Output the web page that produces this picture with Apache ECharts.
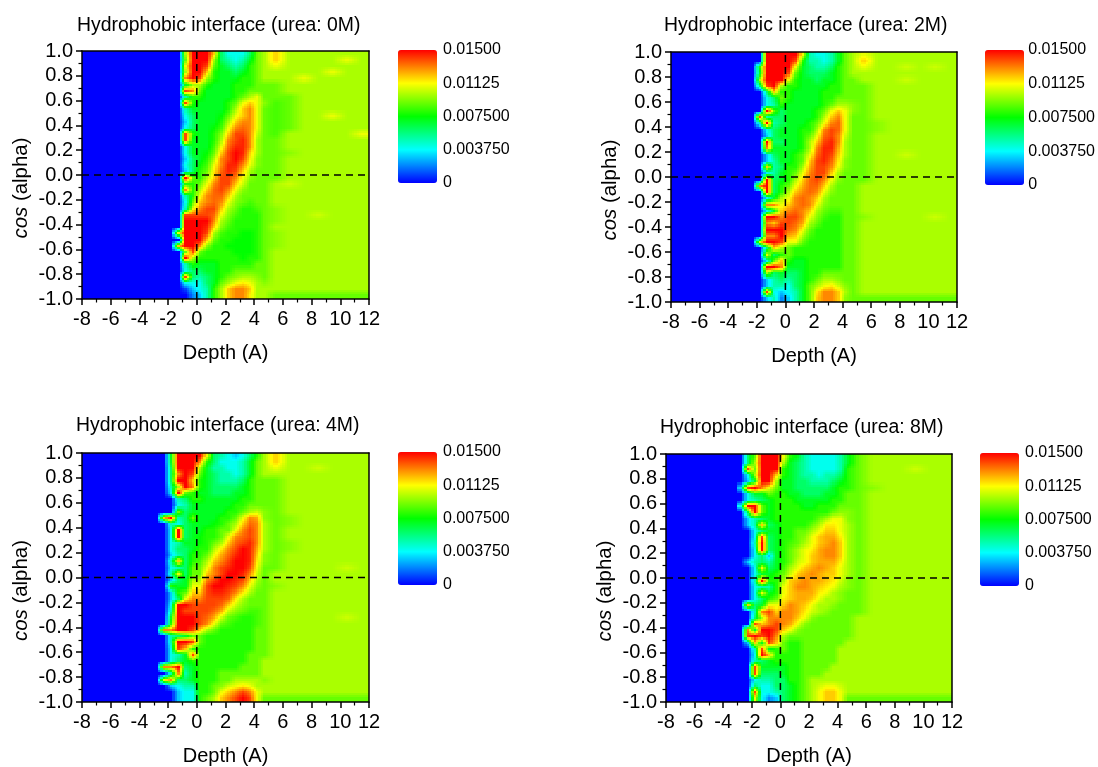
<!DOCTYPE html>
<html><head><meta charset="utf-8">
<script src="https://cdn.jsdelivr.net/npm/echarts@6/dist/echarts.min.js"></script>
<style>html,body{margin:0;padding:0;background:#fff}#c{width:1098px;height:767px}</style>
</head><body><div id="c"></div>
<script>
const titles = ['Hydrophobic interface (urea: 0M)','Hydrophobic interface (urea: 2M)','Hydrophobic interface (urea: 4M)','Hydrophobic interface (urea: 8M)'];
const colorbarTicks = ['0','0.003750','0.007500','0.01125','0.01500'];
const depthEdges = [-8,-3,-2.5,-2,-1.5,-1,-0.5,0,0.5,1,1.5,2,2.5,3,3.5,4,4.5,5,6,7,8,9,10,11,12];
// values in units of 0.001; rows run from cos = 1.0 down to -1.0 in steps of 0.05
const urea0M = [
[0,0,0,0,0,10,15,15,15,12,6,4,4,4,6,9,10,12,10,10,10,10,10,10],
[0,0,0,0,0,9,15,15,15,10,6,5,4,5,7,9,10,12,10,10,10,10,11,10],
[0,0,0,0,0,11,15,15,14,9,7,6,5,6,8,9,10,11,10,10,10,10,10,10],
[0,0,0,0,0,10,15,15,12,8,7,7,6,7,8,9,10,10,10,10,10,11,10,10],
[0,0,0,0,0,13,15,14,10,8,7,7,7,8,8,9,10,10,10,11,10,10,10,10],
[0,0,0,0,0,7,10,10,8,7,7,7,8,8,8,9,9,9,10,10,10,10,10,10],
[0,0,0,0,0,14,13,9,7,7,7,7,8,8,9,9,9,9,10,10,10,10,10,10],
[0,0,0,0,0,5,8,8,7,7,7,7,8,9,10,11,9,9,9,10,10,10,10,10],
[0,0,0,0,0,14,8,7,7,7,7,8,9,11,12,11,9.5,8.5,9,10,10,10,10,10],
[0,0,0,0,0,5,7,7,7,7,7,8,10,12,13,11,9,8.5,9,10,10,10,10,10],
[0,0,0,0,0,4,6,7,7,7,7.5,9,11,12,13,11,9,8.5,9,10,10,11,10,10],
[0,0,0,0,0,3,6,7,7,7,8,10,12,13,13,11,9,8.5,9,10,10,10,10,10],
[0,0,0,0,0,4,6,7,7,7.5,8.5,11,13,13.5,13,11,9,8.5,9,10,10,10,10,10],
[0,0,0,0,0,14,8,7,7,8,9.5,12,14,14,13,10.5,9,8.5,10,10,10,10,10,11],
[0,0,0,0,0,14,7,7,7,8,10,13,14,14.5,13,10,9,9,10,10,10,10,10,10],
[0,0,0,0,0,4,7,7,7,8.5,11,13.5,14.5,14.5,13,10,9,9,10,10,10,10,10,10],
[0,0,0,0,0,4,7,7,7.5,9,12,14,15,14.5,12,10,9,9,9.5,10,10,10,10,10],
[0,0,0,0,0,3,6,7,8,10,13,14,15,14,11.5,9.5,9,9,10,10,10,10,10,10],
[0,0,0,0,0,4,6,7.5,8.5,11,13,14.5,14.5,13,11,9.5,9,9,10,10,10,10,10,10],
[0,0,0,0,0,3,6,8,9,11.5,13.5,14.5,14,12,10,9,9,9,10,10,10,10,10,10],
[0,0,0,0,0,15,9,8,10,12,14,14,13,11,9.5,9,9,9,10,10,10,10,10,10],
[0,0,0,0,0,8,8,9,11,13,14,14,12,10.5,9,9,9,10,10.5,10,10,10,10,10],
[0,0,0,0,0,13,8,10,12,13.5,14,13,11,9.5,9,9,9,10,10,10,10,10,10,10],
[0,0,0,0,0,5,8,11,13,13.5,13.5,12,10,9,9,9,9,10,10,10,10,10,10,10],
[0,0,0,0,0,4,9,12,13,13.5,13,11,9.5,9,8.5,9,9,10,10,10,10,10,10,10],
[0,0,0,0,0,5,11,13,14,14,12,10,9,8,8,8.5,9,9.5,10,10,10,10,10,10],
[0,0,0,0,0,14,14,14,14,13.5,11,9.5,8.5,8,8,8,9,9.5,10,10,10.5,10,10,10],
[0,0,0,0,0,15,15,15,15,13,10,9,8,8,8,8,9,9.5,10,10,10,10,10,10],
[0,0,0,0,0,15,15,15,14.5,12,9.5,8.5,8,8,8,8,9,10,10,10,10,10,10,10],
[0,0,0,0,11,15,15,15,14,10,8.5,8,8,7.5,7.5,8,9,9.5,10,10,10,10,10,10],
[0,0,0,0,0,15,15,15,12,9,8,8,7.5,7.5,7.5,8,9,9.5,10,10,10,10,10,10],
[0,0,0,0,12,15,15,13,9.5,8,8,7.5,7.5,7.5,7.5,8,9,9.5,10,10,10,10,10,10],
[0,0,0,0,0,9,14,9,8,8,8,8,7.5,7.5,7.5,8,9,10,10,10,10,10,10,10],
[0,0,0,0,0,15,10,8,8,8,8,8,8,7.5,8,8,9,10,10,10,10,10,10,10],
[0,0,0,0,0,5,8,7,7,7,8,8,8,8,8,9,9,10,10,10,10,10,10,10],
[0,0,0,0,0,4,6,6,7,7,8,8,9,9,9,9,9,10,10,10,10,10,10,10],
[0,0,0,0,0,14,6,5,6,7,8,9,9.5,10,10,9.5,9,10,10,10,10,10,10,10],
[0,0,0,0,0,4,4,4,6,7,9,10,11,11.5,11,10,9.5,10,10,10,10,10,10,10],
[0,0,0,0,0,1,3,4,5,8,10,12,13,13,12,10,10,10,10,10,10,10,10,10],
[0,0,0,0,0,0,2,3,5,8,10,12,13,13,11.5,10,10,9,9,9,9,9,9,9]];
const urea2M = [
[0,0,0,0,15,15,15,15,15,11,5,4,4,5,7,9,10,11,10,10,10,10,10,10],
[0,0,0,0,15,15,15,15,14,8,5,5,4,5,7,9,10,12,10,10,10,10,10,10],
[0,0,0,8,15,15,15,15,11,7,6,5,5,6,8,9,10,11,10,10,10.5,10,10.5,10],
[0,0,0,7,15,15,15,14,9,7,6,6,6,7,8,9,10,10,10,10,10,10,10,10],
[0,0,0,10,15,15,15,11,8,7,7,6,7,7,8,9,9,10,10,10,10.5,10,10,10],
[0,0,0,6,14,15,10,8,8,7,7,7,7,8,8,9,9,9,10,10,10,10,10,10],
[0,0,0,0,6,12,8,8,7,7,7,7,8,8,8,9,9,9,10,10,10,10,10,10],
[0,0,0,0,4,6,9,8,7,7,7,7,8,8,9,9,9,9,10,10,10,10,10,10],
[0,0,0,0,4,5,8,7,7,7,7,7,8,9,10,10,9.5,9,10,10,10,10,10,10],
[0,0,0,0,15,9,6,7,7,7,7,8,9,11,12,11,9.5,9,10,10,10,10,10,10],
[0,0,0,14,5,6,6,7,7,7,7,8,10,12,13,11,9,9,10,10,10,10,10,10],
[0,0,0,5,15,5,6,7,7,7,8,9,11,13,13.5,11,9,9,9.5,10,10,10,10,10],
[0,0,0,0,4,6,7,7,7,8,8,10,13,14,13.5,11,9,9,9.5,10,10,10,10,10],
[0,0,0,0,3,6,7,7,7,8,9,11,13.5,14,13,10.5,9,9,10,10,10,10,10,10],
[0,0,0,0,15,6,6,7,7,8,10,12,14,14.5,13,10,9,9,10,10,10,10,10,10],
[0,0,0,0,13,7,7,7,7,8,10,13,14.5,14.5,12.5,10,9,9,10,10,10,10,10,10],
[0,0,0,0,3,6,7,7,8,9,11,13.5,14.5,14,12,10,9,9,10,10,10.5,10,10,10],
[0,0,0,0,3,5,7,7,8,9,12,14,14.5,13.5,11.5,9.5,9,9,10,10,10,10,10,10],
[0,0,0,0,12,5,6,8,8,10,12.5,14,14,13,11,9.5,9,9,10,10,10,10,10,10],
[0,0,0,0,4,5,7,8,9,11,13,14,14,12,10,9,9,9,10,10,10,10,10,10],
[0,0,0,0,15,6,7,8,10,12,13.5,14,13,11,9.5,9,9,9,10,10,10,10,10,10],
[0,0,0,13,15,6,8,9,11,12.5,13.5,13.5,12,10,9,9,9,10,10,10,10,10,10,10],
[0,0,0,0,15,6,8,10,12,13,13.5,13,11,9.5,9,9,9,10,10,10,10,10,10,10],
[0,0,0,0,4,7,10,11,13,13.5,13,12,10,9,9,9,9,10,10,10,10,10,10,10],
[0,0,0,0,13,13,11,12,13,13.5,13,11,9.5,9,9,9,9,10,10,10,10,10,10,10],
[0,0,0,0,4,7,12,13,13.5,13,12,10,9,8.5,8.5,9,9,10,10,10,10,10,10,10],
[0,0,0,0,15,15,13,14,14,13,11,9.5,8.5,8,8,9,9,9.5,10,10,10,10,10.5,10],
[0,0,0,0,13,12,14,14,13.5,12.5,10,9,8,8,8,9,9,10,10,10,10,10,10,10],
[0,0,0,0,15,15,15,13.5,13,11,9,8,8,8,8,9,9,10,10,10,10,10,10,10],
[0,0,0,0,13,13,15,12.5,12,10,8.5,8,8,8,8,9,9,10,10,10,10,10,10,10],
[0,0,0,11,15,15,14,11,11,9,8,8,8,8,8,9,9,10,10,10,10,10,10,10],
[0,0,0,0,6,12,10,9,8,8,8,8,8,8,8,9,9,10,10,10,10,10,10,10],
[0,0,0,0,11,6,8,9,8,8,8,8,8,8,8,9,9,10,10,10,10,10,10,10],
[0,0,0,0,4,9,12,8,7,7,8,8,8,8,8,9,9,10,10,10,10,10,10,10],
[0,0,0,0,15,15,13,7,7,7,8,8,8,8,8,9,9,10,10,10,10,10,10,10],
[0,0,0,0,10,6,7,6,6,7,8,8,9,9,9,9,9,10,10,10,10,10,10,10],
[0,0,0,0,3,5,6,5,6,7,8,9,10,10,9.5,9,9,10,10,10,10,10,10,10],
[0,0,0,0,3,5,5,4,6,7,9,10,11,11.5,10.5,9.5,9,10,10,10,10,10,10,10],
[0,0,0,0,14,4,3,4,5,7,9,11.5,13,13,12,10,9,10,10,10,10,10,10,10],
[0,0,0,0,3,5,2,3,5,7,9,12,13,13,12,9.5,9,9,9,9,9,9,9,9]];
const urea4M = [
[0,0,0,7,15,15,15,15,11,6,5,4,3,4,6,8,10,12,10,10,10,10,10,10],
[0,0,0,7,15,15,15,13,8,6,4,4,4,5,7,9,10,12,10,10,10,10,10,10],
[0,0,0,6,15,15,15,10,7,5,5,4,4,5,7,9,10,11,10,10,10.5,10,10,10],
[0,0,0,6,13,15,14,9,7,6,5,5,4,5,7,9,10,10,10,10,10,10,10,10],
[0,0,0,6,15,15,12,8,7,6,5,5,5,6,8,9,9,9,10,10,10,10,10,10],
[0,0,0,5,10,15,13,8,7,6,6,6,6,7,8,9,9,9,10,10,10,10,10,10],
[0,0,0,4,15,9,8,7,7,6,6,6,7,7,8,9,9,9,10,10,10,10,10,10],
[0,0,0,0,5,6,8,8,7,7,7,7,7,8,8,9,9,9,10,10,10,10,10,10],
[0,0,0,0,4,5,7,7,7,7,7,7,8,8,9,9,9,9,10,10,10,10,10,10],
[0,0,0,0,9,6,7,7,7,7,7,8,8,9,10,10.5,9.5,9,10,10,10,10,10,10],
[0,0,12,15,5,6,9,7,7,7,8,8,9,11,13,12.5,9.5,9,9.5,10,10,10,10,10],
[0,0,0,5,4,6,7,7,7,7.5,8,9,10,12,13.5,13,10,9,9.5,10,10,10,10,10],
[0,0,0,4,15,6,7,7,8,8,9,9,11,13,14,13,10,9,10,10,10,10,10,10],
[0,0,0,4,15,6,7,7.5,8,8,9,11,13,13.5,14,13,10,9,10,10,10,10,10,10],
[0,0,0,4,5,7,7,7.5,8,9,10,12,13.5,14,14.5,13,10,9,9.5,10,10,10,10,10],
[0,0,0,4,6,6,7,8,8,10,11.5,13,14,15,14.5,12.5,10,9,9.5,10,10,10,10,10],
[0,0,0,3,5,6,8,8,9,11,12.5,13.5,14.5,15,14.5,12,9.5,9,10,10,10,10,10,10],
[0,0,0,5,12,6,8,8.5,10,12,13,14,15,15,14.5,11.5,9.5,9,10,10,10,10,10,10],
[0,0,0,4,5,6,9,9,11,13,14,14.5,15,15,14,11,9,9,10,10,10,10,10.5,10],
[0,0,0,5,11,6,9,9,12,13,14,15,15,14.5,13,10.5,9,10,10,10,10,10,10,10],
[0,0,0,3,6,7,10,10,13,14,15,15,14.5,14,12,10,9,10,10,10,10,10,10,10],
[0,0,0,8,7,7,11,11,14,15,15,14.5,14,13,11,9.5,9,9.5,10,10,10,10,10,10],
[0,0,0,3,8,9,12,12,14,14.5,14.5,14,13,11.5,10,9,9,10,10,10,10,10,10,10],
[0,0,0,3,6,11,13,13,14,14,14,13.5,11.5,10,9,9,9,10,10,10,10,10,10,10],
[0,0,0,4,15,15,14,14,14,14,13.5,12,10.5,9.5,9,9,9,10,10,10,10,10,10,10],
[0,0,0,5,15,14,14,14,14,13.5,12.5,10.5,9.5,9,8.5,8.5,9,10,10,10,10,10,10,10],
[0,0,0,7,15,15,15,14,13.5,12.5,10.5,9,8.5,8,8,8.5,9,10,10,10,10,10,10.5,10],
[0,0,0,8,15,15,15,14,13,11,9,8.5,8,8,8,8.5,9,10,10,10,10,10,10,10],
[0,0,13,13,15,15,14,12,10,9,8,8,8,8,8,9,9,10,10,10,10,10,10,10],
[0,0,0,5,6,7,9,9,8,8,8,8,8,8,8,9,9,10,10,10,10,10,10,10],
[0,0,0,5,15,15,14,9,8,8,8,8,8,8,8,9,9,10,10,10,10,10,10,10],
[0,0,0,4,14,12,8,8,8,8,8,8,8,8,8,9,9,10,10,10,10,10,10,10],
[0,0,0,4,5,7,14,8,8,8,8,8,8,8,9,9,9,10,10,10,10,10,10,10],
[0,0,0,4,6,7,8,8,8,8,8,8,8,8,9,9,10,10,10,10,10,10,10,10],
[0,0,13,13,15,6,7,8,8,8,8,8,8,9,9,9,10,10,10,10,10,10,10,10],
[0,0,0,5,13,5,7,8,8,8,9,9,9,9,9,9,10,10,10,10,10,10,10,10],
[0,0,11,13,6,6,7,8,8,8,9,9,10,10,10,10,9.5,10,10,10,10,10,10,10],
[0,0,0,3,4,5,5,8,8,9,9.5,10.5,11,11.5,11,10,10,10,10,10,10,10,10,10],
[0,0,0,0,3,4,4,8,8,9,11,12,13,14,13,11,10,10,10,10,10,10,10,10],
[0,0,0,0,3,4,4,8,9,10,12,13,14,15,14,11,9,9,9,9,9,9,9,9]];
const urea8M = [
[0,0,6,9,15,15,15,11,8,7,5,4,4,4,4,5,7,9,10,10,10,10,10,10],
[0,0,6,10,15,15,15,10,7,6,5,4,4,4,4,5,7,9,10,10,10,10,10,10],
[0,0,14,9,15,15,15,8,7,6,5,4,4,4,4,5,8,9,10,10,10,10.5,10,10],
[0,0,4,10,15,15,12,8,7,6,5,5,4,5,5,6,8,9,10,10,10,10,10,10],
[0,0,3,7,15,15,10,7,7,6,6,5,5,5,6,7,8,9,10,10,10,10,10,10],
[0,3,14,15,13,11,9,7,7,6,6,6,6,6,7,8,8,9,9.5,10,10,10,10,10],
[0,0,4,7,7,9,8,8,7,7,6,6,6,7,7,8,9,9,10,10,10,10,10,10],
[0,0,4,5,6,7,8,8,8,7,7,7,7,7,8,8,9,9,10,10,10,10,10,10],
[0,4,15,15,9,7,8,8,8,8,7,7,8,8,8,9,9,9,10,10,10,10,10,10],
[0,0,7,15,9,7,8,8,8,8,8,8,8,8,9,9.5,9.5,9,10,10,10,10,10,10],
[0,0,3,5,6,7,8,8,8,8,8,8,9,10,11,11,9.5,9,10,10,10,10,10,10],
[0,0,3,5,12,6,7,8,8,8,8,9,10,11.5,11.5,11,10,9,10,10,10,10,10,10],
[0,0,0,4,6,7,7,8,8,9,9,10,11,12,12,11,10,9,10,10,10,10,10,10],
[0,0,0,4,14,6,7,8,8,9,9.5,11,12,12.5,12.5,11.5,10,9,10,10,10,10,10,10],
[0,0,0,5,15,6,7,8,8.5,9,10,11,12,12.5,13,12,10,9,10,10,10,10,10,10],
[0,0,0,4,15,6,7,8,9,10,11,11.5,12.5,13,13,12,10,9,10,10,10,10,10,10],
[0,0,0,4,6,3,7,8,9,10,11,12,12.5,13,13,12,10,9,10,10,10,10,10,10],
[0,0,3,5,6,5,7,8,9,10.5,11,12,12.5,12.5,12.5,11.5,10,9,10,10,10,10,10,10],
[0,0,0,4,11,6,7,8.5,10,11,12,12.5,13,12.5,12,11,10,9,10,10,10,10,10,10],
[0,0,0,4,7,7,8,9,10.5,12,12.5,13,12.5,12,12,11,10,9,10,10,10,10,10,10],
[0,0,0,5,15,8,8,10,12,12.5,13,12.5,12.5,12,11.5,10.5,9.5,9,10,10,10,10,10,10],
[0,0,0,4,5,5,8,11,12,13,13,12.5,12,11.5,11,10,9.5,9,10,10,10,10,10,10],
[0,0,0,4,11,7,8,11,12,12.5,12.5,12.5,11.5,11,10,9.5,9,9,10,10,10,10,10,10],
[0,0,0,4,6,8,9,11.5,12,12.5,12.5,12,11,10,10,9.5,9,9,10,10,10,10,10,10],
[0,0,12,6,7,11,11,12,13,12.5,12,11,10,10,9.5,9,9,9,10,10,10,10,10,10],
[0,0,0,5,13,14,12,13,13,12.5,11.5,10.5,10,9.5,9,9,9,9,10,10,10,10,10,10],
[0,0,0,6,10,13,13,13,13,12,11,9.5,9,9,9,9,9,10,10,10,10,10,10,10],
[0,0,0,14,12,13,14,13,12.5,11,9.5,9,9,9,9,9,9,10,10,10,10,10,10,10],
[0,0,13,7,15,15,14,12,11,9.5,9,9,9,9,9,9,9,10,10,10,10,10,10,10],
[0,0,14,15,14,15,13,10,9,9,9,9,9,9,9,9,9,10,10,10,10,10,10,10],
[0,0,3,12,7,14,12,9,8,8,9,9,9,9,9,9,10,10,10,10,10,10,10,10],
[0,0,0,5,14,7,8,9,8,8,9,9,9,9,9,10,10,10,10,10,10,10,10,10],
[0,0,0,4,15,12,8,8,8,8,9,9,9,9,9,10,10,10,10,10,10,10,10,10],
[0,0,0,5,6,7,8,8,8,8,9,9,9,9,9,10,10,10,10,10,10,10,10,10],
[0,0,0,14,7,7,7,7,8,8,9,9,9,9,10,10,10,10,10,10,10,10,10,10],
[0,0,0,14,6,6,6,7,8,8,9,9,9,10,10,10,10,10,10,10,10,10,10,10],
[0,0,0,4,5,5,6,6,8,8,9,10,10,10,10,10,10,10,10,10,10,10,10,10],
[0,0,0,6,4,4,6,6,7,8,9,10,10.5,11,11,10.5,10,10,10,10,10,10,10,10],
[0,0,0,14,4,4,5,6,7,8,9,10,11,12,12,11,10,10,10,10,10,10,10,10],
[0,0,0,11,4,2,3,6,7,8,9,10,11,12,12,11,9,9,9,9,9,9,9,9]];
const panelValues = [urea0M, urea2M, urea4M, urea8M];
const zeroLineV = [[0,-1],[0,1]];
const zeroLineH = [[-8,0],[12,0]];

const FONT = '"Liberation Sans", Arial, sans-serif';
const STOPS = ['#0000ff','#00ffff','#00ff00','#ffff00','#ff0000'];
const rects = [
  {l:82,t:51,r:369,b:299, cl:398,ct:50,cb:183, tx:77,ty:16},
  {l:671,t:52,r:957,b:302, cl:985,ct:50,cb:185, tx:664,ty:16},
  {l:82,t:453,r:369,b:702, cl:398,ct:452,cb:585, tx:76,ty:416},
  {l:666,t:454,r:952,b:703, cl:980,ct:453,cb:586, tx:660,ty:418}
];
const W = 1098, H = 767;
const grid=[], xAxis=[], yAxis=[], series=[], visualMap=[], title=[];
const centers = depthEdges.slice(0,-1).map((e,j)=>(e+depthEdges[j+1])/2);
const nRows = 40, nCols = centers.length;
// Shades each cell continuously towards its neighbours' colours, as the contour plot is shaded.
const sampleAt = (vals, r, x) => {
  const rr = Math.max(0, Math.min(nRows-1, r));
  const r0 = Math.floor(rr), r1 = Math.min(nRows-1, r0+1), fr = rr-r0;
  let j1 = 1; while (j1 < nCols-1 && centers[j1] < x) j1++;
  const j0 = j1-1;
  const fx = Math.max(0, Math.min(1, (x-centers[j0])/(centers[j1]-centers[j0])));
  const top = vals[r0][j0]*(1-fx)+vals[r0][j1]*fx;
  const bot = vals[r1][j0]*(1-fx)+vals[r1][j1]*fx;
  return top*(1-fr)+bot*fr;
};
const makeRender = vals => (params, api) => {
  const x0 = api.value(0), x1 = api.value(1), y0 = api.value(2), y1 = api.value(3);
  const row = Math.floor(params.dataIndex/nCols);
  const w = x1-x0, nx = w > 4 ? 1 : (w > 0.75 ? 6 : 3), ny = 3;
  const children = [];
  for (let a=0; a<nx; a++) for (let b=0; b<ny; b++) {
    const xa = x0+w*a/nx, xb = x0+w*(a+1)/nx;
    const yt = y1-(y1-y0)*b/ny, yb = y1-(y1-y0)*(b+1)/ny;
    const v = sampleAt(vals, row+(b+0.5)/ny-0.5, (xa+xb)/2);
    const p0 = api.coord([xa,yt]), p1 = api.coord([xb,yb]);
    const left = Math.floor(p0[0]), top = Math.floor(p0[1]);
    children.push({type:'rect',shape:{x:left,y:top,width:Math.ceil(p1[0])-left,height:Math.ceil(p1[1])-top},
      style:{fill:echarts.color.lerp(Math.max(0,Math.min(1,v/15)),STOPS)}});
  }
  return {type:'group',children};
};
rects.forEach((g,p)=>{
  title.push({text:titles[p], left:g.tx, top:g.ty, padding:0, textStyle:{fontFamily:FONT,fontSize:19.4,fontWeight:'normal',color:'#000'}});
  grid.push({left:g.l, top:g.t, width:g.r-g.l, height:g.b-g.t});
  grid.push({left:g.cl, top:g.ct, width:39, height:g.cb-g.ct});
  const base = {min:-8,max:12,interval:2,gridIndex:p*2,type:'value',splitLine:{show:false},z:5,
    axisLine:{onZero:false,lineStyle:{color:'#000',width:1.5}}};
  xAxis.push({...base, position:'bottom', name:'Depth (A)', nameLocation:'middle', nameGap:44,
    nameTextStyle:{fontFamily:FONT,fontSize:20,color:'#000'},
    axisTick:{length:6,lineStyle:{color:'#000',width:1.5}},
    minorTick:{show:true,splitNumber:2,length:3.5,lineStyle:{color:'#000',width:1.2}},
    axisLabel:{fontFamily:FONT,fontSize:20,color:'#000',margin:10,showMinLabel:true,showMaxLabel:true,hideOverlap:false}});
  xAxis.push({...base, position:'top', axisTick:{show:false}, axisLabel:{show:false}});
  const ybase = {min:-1,max:1,interval:0.2,gridIndex:p*2,type:'value',splitLine:{show:false},z:5,
    axisLine:{onZero:false,lineStyle:{color:'#000',width:1.5}}};
  yAxis.push({...ybase, position:'left', name:'{i|cos} (alpha)', nameLocation:'middle', nameGap:51, nameRotate:90,
    nameTextStyle:{fontFamily:FONT,fontSize:20.4,color:'#000',padding:[0,26,0,0],rich:{i:{fontFamily:FONT,fontSize:20.4,fontStyle:'italic',color:'#000'}}},
    axisTick:{length:6,lineStyle:{color:'#000',width:1.5}},
    minorTick:{show:true,splitNumber:2,length:3.5,lineStyle:{color:'#000',width:1.2}},
    axisLabel:{fontFamily:FONT,fontSize:20,color:'#000',margin:9,showMinLabel:true,showMaxLabel:true,hideOverlap:false,
      formatter:v=>(Math.abs(v)<1e-9?0:v).toFixed(1)}});
  yAxis.push({...ybase, position:'right', axisTick:{show:false}, axisLabel:{show:false}});
  xAxis.push({type:'value',gridIndex:p*2+1,min:0,max:1,show:false});
  yAxis.push({type:'value',gridIndex:p*2+1,min:0,max:15,interval:3.75,position:'right',splitLine:{show:false},
    axisLine:{show:false},axisTick:{show:false},
    axisLabel:{fontFamily:FONT,fontSize:16,color:'#000',margin:6,padding:[3,0,0,0],showMinLabel:true,showMaxLabel:true,hideOverlap:false,
      formatter:v=>colorbarTicks[Math.round(v/3.75)]}});
  const cells=[];
  panelValues[p].forEach((row,i)=>{
    row.forEach((v,j)=>cells.push([depthEdges[j],depthEdges[j+1],1-(i+1)*0.05,1-i*0.05,v]));
  });
  const seriesIndex = series.length;
  const axisIdx = p*3;
  series.push({type:'custom',xAxisIndex:axisIdx,yAxisIndex:axisIdx,data:cells,renderItem:makeRender(panelValues[p]),
    encode:{x:[0,1],y:[2,3]},dimensions:['x0','x1','y0','y1','v'],silent:true,progressive:0,clip:true,z:2});
  [zeroLineV,zeroLineH].forEach(d=>series.push({type:'line',xAxisIndex:axisIdx,yAxisIndex:axisIdx,data:d,symbol:'none',silent:true,z:3,
    lineStyle:{color:'#000',width:1.5,type:[7,5]}}));
  visualMap.push({type:'continuous',min:0,max:15,seriesIndex,dimension:4,left:g.cl,top:g.ct,itemWidth:39,itemHeight:g.cb-g.ct,
    calculable:false,text:null,showLabel:false,hoverLink:false,padding:0,
    inRange:{color:STOPS},textStyle:{fontSize:0,color:'transparent'},formatter:()=>''});
});
const chart = echarts.init(document.getElementById('c'),null,{renderer:'canvas',width:W,height:H});
chart.setOption({animation:false,backgroundColor:'#fff',title,grid,xAxis,yAxis,series,visualMap});
</script>
</body></html>
